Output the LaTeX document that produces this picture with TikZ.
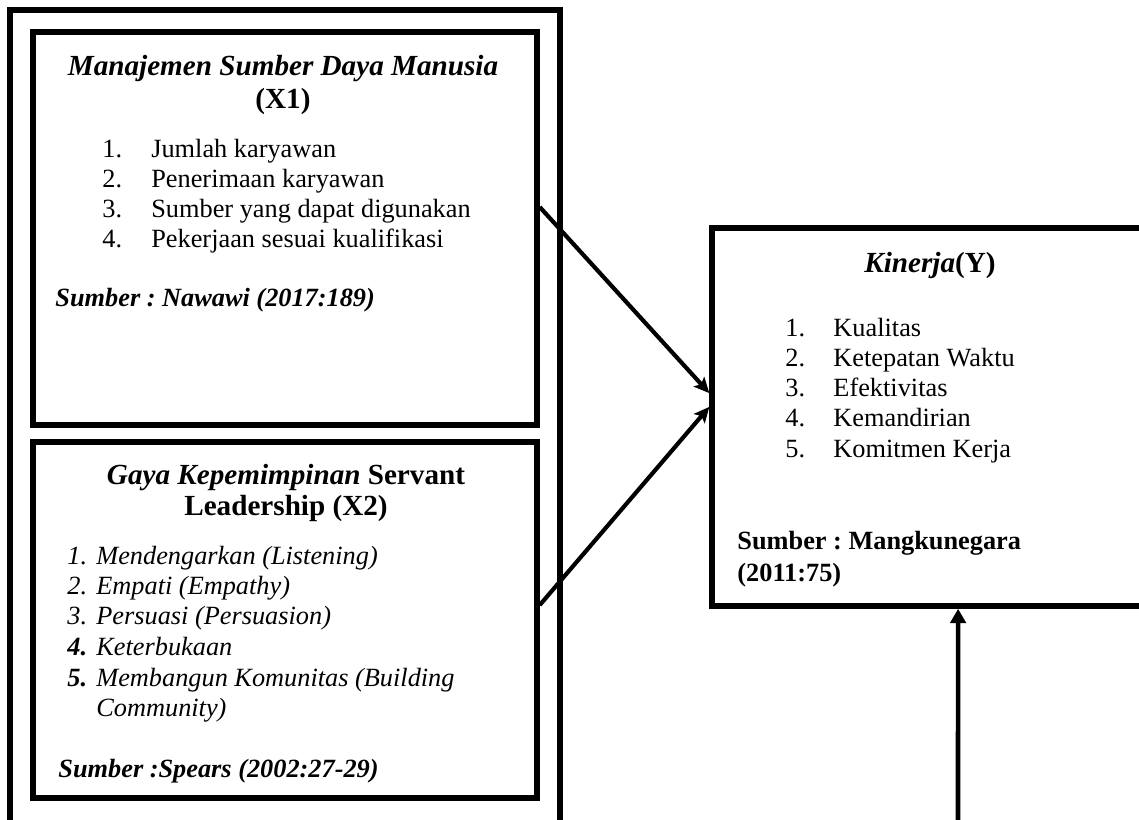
\documentclass[tikz,border=0pt]{standalone}
\usepackage{fontspec}
\setmainfont{Liberation Serif}
\frenchspacing
\usetikzlibrary{arrows.meta,positioning}
\tikzset{
  kf frame/.style={draw=black,line width=2.5pt},
  kf box/.style={rectangle,draw=black,line width=2.5pt,inner sep=0pt},
  kf arrow/.style={black,line width=1.9pt,-{Stealth[length=7pt,width=6.5pt,inset=1.5pt]}},
  kf up/.style={black,line width=2.1pt,-{Triangle[length=6.5pt,width=7pt]}},
  kf head/.style={anchor=base,inner sep=0pt,font=\fontsize{13.3}{15}\selectfont\bfseries},
  kf item/.style={anchor=base west,inner sep=0pt,font=\fontsize{12}{14}\selectfont}
}
\newcommand{\kfitem}[5]{%
  \node[kf item] (#1) at (#2) {\makebox[#3][l]{#4}#5};%
}

\begin{document}
\begin{tikzpicture}[x=0.456pt,y=-0.456pt]
  \useasboundingbox (0,0) rectangle (1139,820);
  \clip (0,0) rectangle (1139,820);
  % outer frame round both variables
  \draw[kf frame] (10,850) -- (10,10) -- (560,10) -- (560,850);
  \node[kf box,minimum width=229.8pt,minimum height=179.2pt] (x1) at (285,228.5) {};
  \node[kf box,minimum width=229.8pt,minimum height=162.3pt] (x2) at (285,620) {};
  \node[kf box,minimum width=208.8pt,minimum height=172.4pt] (y) at (941,417) {};
  % X1
  \node[kf head] (x1t) at (283,75) {\itshape Manajemen Sumber Daya Manusia};
  \node[kf head] (x1v) at (283,108) {(X1)};
  \kfitem{x1a}{102,157}{22.3pt}{1.}{Jumlah karyawan}
  \kfitem{x1b}{102,187}{22.3pt}{2.}{Penerimaan karyawan}
  \kfitem{x1c}{102,217}{22.3pt}{3.}{Sumber yang dapat digunakan}
  \kfitem{x1d}{102,247}{22.3pt}{4.}{Pekerjaan sesuai kualifikasi}
  \node[kf item,font=\fontsize{12}{14}\selectfont\bfseries\itshape] (x1s) at (55,306) {Sumber : Nawawi (2017:189)};
  % X2
  \node[kf head] (x2t) at (286,484) {\textit{Gaya Kepemimpinan} Servant};
  \node[kf head] (x2v) at (286,515) {Leadership (X2)};
  \kfitem{x2a}{67,564}{13.2pt}{\textit{1.}}{\textit{Mendengarkan (Listening)}}
  \kfitem{x2b}{67,594}{13.2pt}{\textit{2.}}{\textit{Empati (Empathy)}}
  \kfitem{x2c}{67,624}{13.2pt}{\textit{3.}}{\textit{Persuasi (Persuasion)}}
  \kfitem{x2d}{67,655}{13.2pt}{\textbf{\textit{4.}}}{\textit{Keterbukaan}}
  \kfitem{x2e}{67,686}{13.2pt}{\textbf{\textit{5.}}}{\textit{Membangun Komunitas (Building}}
  \kfitem{x2f}{67,716}{13.2pt}{}{\textit{Community)}}
  \node[kf item,font=\fontsize{12}{14}\selectfont\bfseries\itshape] (x2s) at (58,777) {Sumber :Spears (2002:27-29)};
  % Y
  \node[kf head] (yt) at (930,272) {\textit{Kinerja}(Y)};
  \kfitem{ya}{785,336}{21.9pt}{1.}{Kualitas}
  \kfitem{yb}{785,366}{21.9pt}{2.}{Ketepatan Waktu}
  \kfitem{yc}{785,396}{21.9pt}{3.}{Efektivitas}
  \kfitem{yd}{785,426}{21.9pt}{4.}{Kemandirian}
  \kfitem{ye}{785,457}{21.9pt}{5.}{Komitmen Kerja}
  \node[kf item,font=\fontsize{12}{14}\selectfont\bfseries] (ys1) at (737,549) {Sumber : Mangkunegara};
  \node[kf item,font=\fontsize{12}{14}\selectfont\bfseries] (ys2) at (737,581) {(2011:75)};
  % arrows
  \coordinate (low) at (958,830);
  \draw[kf arrow] ([yshift=9.8pt]x1.east) -- ([yshift=10.9pt]y.west);
  \draw[kf arrow] ([yshift=6.8pt]x2.east) -- ([yshift=4.6pt]y.west);
  \draw[kf up] (low) -- ([xshift=7.8pt]y.south);
\end{tikzpicture}
\end{document}
